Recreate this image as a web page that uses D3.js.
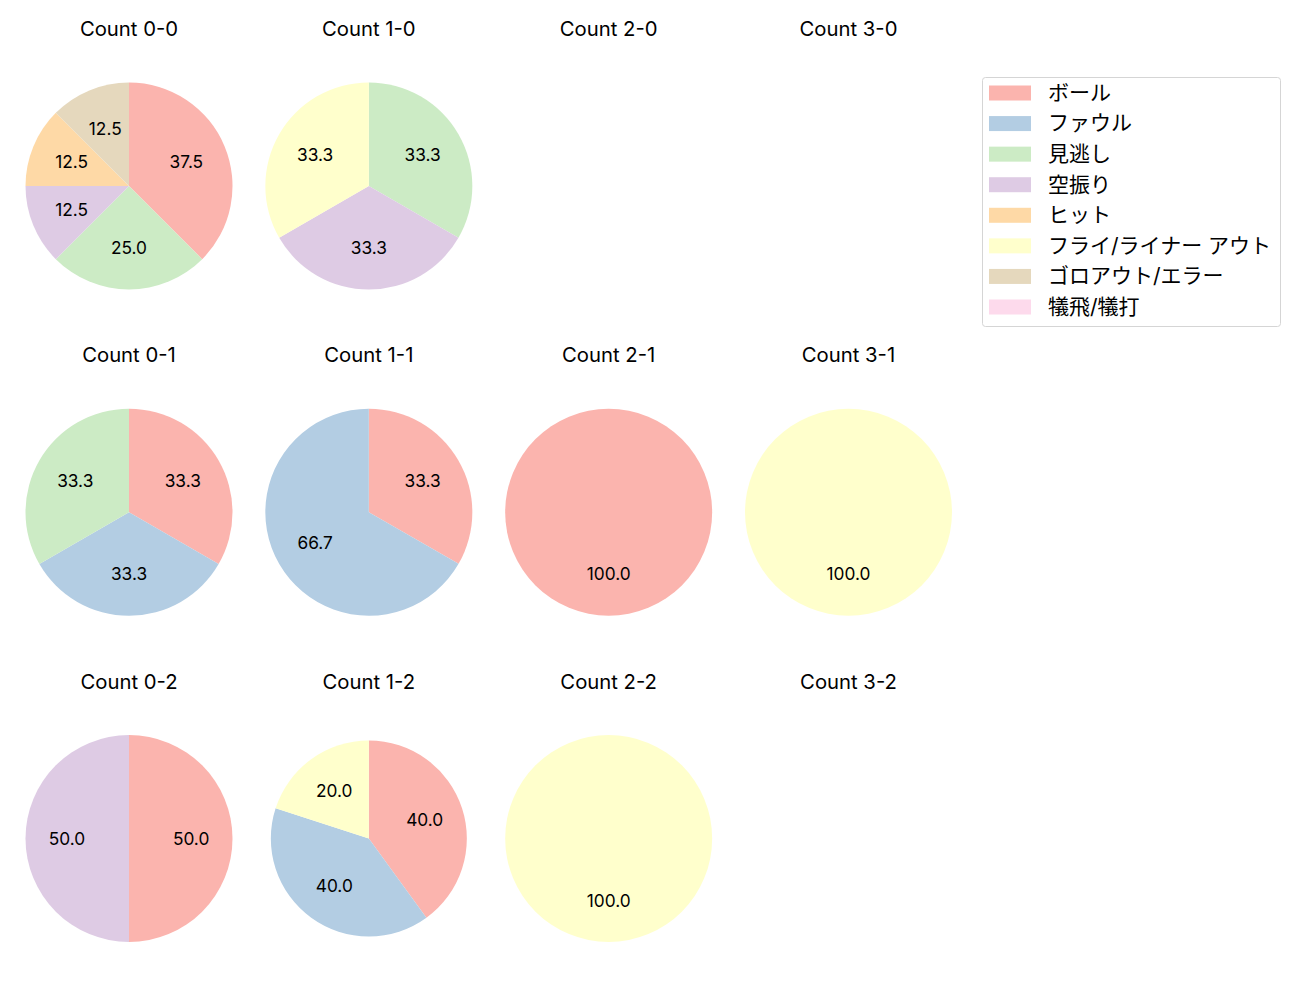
<!DOCTYPE html>
<html><head><meta charset="utf-8">
<script src="https://cdn.jsdelivr.net/npm/d3@7"></script>
<style>body{margin:0;background:#fff;} text{font-family:Inter,"Noto Sans CJK JP",sans-serif;}</style>
</head><body><svg id="c" width="1300" height="1000"></svg>
<script>
const categories = ["ボール","ファウル","見逃し","空振り","ヒット","フライ/ライナー アウト","ゴロアウト/エラー","犠飛/犠打"];
const colors = ["#fbb4ae","#b3cde3","#ccebc5","#decbe4","#fed9a6","#ffffcc","#e5d8bd","#fddaec"];
const titles = ["Count 0-0","Count 1-0","Count 2-0","Count 3-0","Count 0-1","Count 1-1","Count 2-1","Count 3-1","Count 0-2","Count 1-2","Count 2-2","Count 3-2"];
// values per category for each count (percent)
const v00 = [37.5,0,25.0,12.5,12.5,0,12.5,0];
const v10 = [0,0,33.3,33.3,0,33.3,0,0];
const v20 = null;
const v30 = null;
const v01 = [33.3,33.3,33.3,0,0,0,0,0];
const v11 = [33.3,66.7,0,0,0,0,0,0];
const v21 = [100,0,0,0,0,0,0,0];
const v31 = [0,0,0,0,0,100,0,0];
const v02 = [50,0,0,50,0,0,0,0];
const v12 = [40,40,0,0,0,20,0,0];
const v22 = [0,0,0,0,0,100,0,0];
const v32 = null;
const values = [v00,v10,v20,v30,v01,v11,v21,v31,v02,v12,v22,v32];
const radii = [103.5,103.5,0,0,103.5,103.5,103.5,103.5,103.5,98,103.5,0];

const svg = d3.select("#c");
const colX = d3.scalePoint().domain([0,1,2,3]).range([129,848.5]);
const rowY = d3.scalePoint().domain([0,1,2]).range([186,838.5]);
const pie = d3.pie().sort(null).value(d=>d.v);

titles.forEach((t,i)=>{
  const c=i%4, r=Math.floor(i/4);
  const cx=colX(c), cy=rowY(r);
  svg.append("text").attr("x",cx).attr("y",cy-157).attr("dy","0.35em").attr("text-anchor","middle")
    .attr("font-size",20.3).attr("fill","#000").text(t);
  const vals=values[i];
  if(!vals) return;
  const R=radii[i];
  const data=vals.map((v,k)=>({v,k})).filter(d=>d.v>0);
  const g=svg.append("g").attr("transform",`translate(${cx},${cy})`);
  const arc=d3.arc().innerRadius(0).outerRadius(R);
  const arcs=pie(data);
  g.selectAll("path").data(arcs).join("path").attr("d",arc).attr("fill",d=>colors[d.data.k]);
  g.selectAll("text").data(arcs).join("text")
    .attr("x",d=>{const a=(d.startAngle+d.endAngle)/2;return 0.6*R*Math.sin(a);})
    .attr("y",d=>{const a=(d.startAngle+d.endAngle)/2;return -0.6*R*Math.cos(a);})
    .attr("dy","0.35em").attr("text-anchor","middle").attr("font-size",17.3).attr("fill","#000")
    .text(d=>d.data.v.toFixed(1));
});

const lg=svg.append("g");
lg.append("rect").attr("x",982.5).attr("y",77.5).attr("width",298).attr("height",249).attr("rx",3)
  .attr("fill","#fff").attr("stroke","#d5d5d5");
const ly=d3.scalePoint().domain(d3.range(categories.length)).range([92.5,306.5]);
categories.forEach((n,k)=>{
  lg.append("rect").attr("x",989).attr("y",ly(k)-7).attr("width",42).attr("height",15).attr("fill",colors[k]);
  lg.append("text").attr("x",1048).attr("y",ly(k)).attr("dy","0.35em").attr("font-size",21).attr("fill","#000").text(n);
});
</script></body></html>
